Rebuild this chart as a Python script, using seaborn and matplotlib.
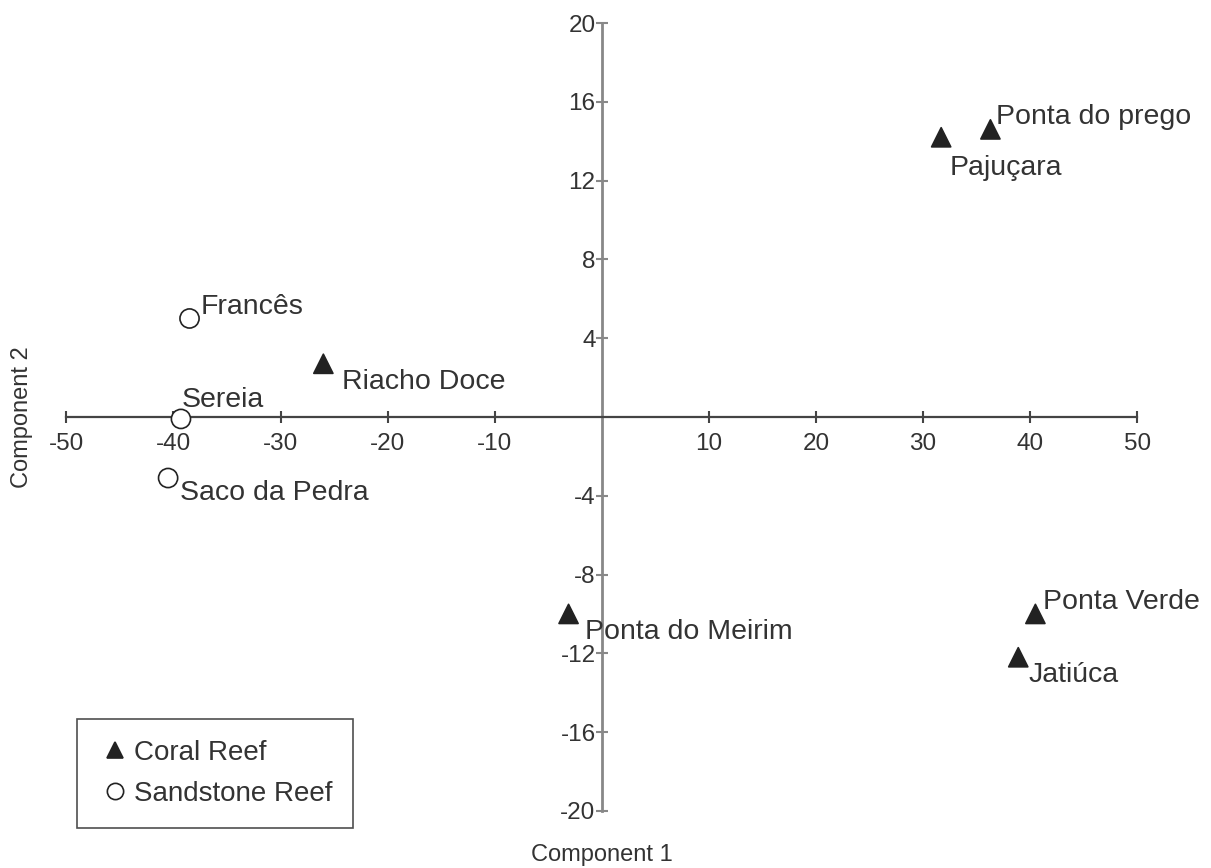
import matplotlib
matplotlib.use("Agg")
import matplotlib.pyplot as plt
import seaborn as sns
import pandas as pd

# site scores on the first two components
sites = ["Ponta do prego", "Pajuçara", "Francês", "Riacho Doce", "Sereia",
         "Saco da Pedra", "Ponta do Meirim", "Ponta Verde", "Jatiúca"]
comp1 = [36.3, 31.7, -38.5, -26.0, -39.3, -40.5, -3.1, 40.5, 38.9]
comp2 = [14.6, 14.2, 5.0, 2.7, -0.1, -3.1, -10.0, -10.0, -12.2]
reef = ["Coral Reef", "Coral Reef", "Sandstone Reef", "Coral Reef", "Sandstone Reef",
        "Sandstone Reef", "Coral Reef", "Coral Reef", "Coral Reef"]

x_ticks = [-50, -40, -30, -20, -10, 10, 20, 30, 40, 50]
y_ticks = [-20, -16, -12, -8, -4, 4, 8, 12, 16, 20]

# label offsets in pixels (dx, dy), text left-aligned, vertically centered
offsets = {
    "Ponta do prego": (6, 12),
    "Pajuçara": (8, -31),
    "Francês": (11, 11),
    "Riacho Doce": (19, -18),
    "Sereia": (1, 19),
    "Saco da Pedra": (12, -15),
    "Ponta do Meirim": (16, -18),
    "Ponta Verde": (8, 12),
    "Jatiúca": (10, -18),
}

df = pd.DataFrame({"site": sites, "c1": comp1, "c2": comp2, "reef": reef})

sns.set_style("white")
plt.rcParams["font.family"] = ["Liberation Sans", "DejaVu Sans"]
txt = "#333333"

fig = plt.figure(figsize=(12.11, 8.68), dpi=100)
ax = fig.add_axes([0, 0, 1, 1])

sns.scatterplot(data=df, x="c1", y="c2", hue="reef", style="reef",
                hue_order=["Coral Reef", "Sandstone Reef"],
                palette={"Coral Reef": "#222222", "Sandstone Reef": "white"},
                markers={"Coral Reef": "^", "Sandstone Reef": "o"},
                s=190, edgecolor="#222222", linewidth=1.2, ax=ax, zorder=3)

for _, r in df.iterrows():
    dx, dy = offsets[r["site"]]
    ax.annotate(r["site"], (r["c1"], r["c2"]), xytext=(dx * 0.72, dy * 0.72),
                textcoords="offset points", ha="left", va="center",
                fontsize=20.5, color=txt)

# limits so that data maps onto the reference pixel grid
ax.set_xlim(-56.2, 56.9)
ax.set_ylim(-22.9, 21.17)

ax.spines["left"].set_position(("data", 0))
ax.spines["bottom"].set_position(("data", 0))
ax.spines["right"].set_visible(False)
ax.spines["top"].set_visible(False)
ax.spines["bottom"].set_bounds(-50, 50)
ax.spines["left"].set_bounds(-20, 20)
ax.spines["bottom"].set_color("#444444")
ax.spines["left"].set_color("#888888")
ax.spines["bottom"].set_linewidth(1.6)
ax.spines["left"].set_linewidth(2.0)

ax.set_xticks(x_ticks)
ax.set_xticklabels([str(v) for v in x_ticks])
ax.set_yticks(y_ticks)
ax.set_yticklabels([str(v) for v in y_ticks])
ax.tick_params(axis="x", bottom=True, direction="inout", length=9, width=1.5,
               color="#444444", labelsize=17.5, labelcolor=txt, pad=7)
ax.tick_params(axis="y", left=True, direction="inout", length=9, width=1.5,
               color="#888888", labelsize=17.5, labelcolor=txt, pad=0)
ax.set_xlabel("")
ax.set_ylabel("")

fig.text(602 / 1211, 1 - 855 / 868, "Component 1", ha="center", va="center",
         fontsize=17, color=txt)
fig.text(22 / 1211, 1 - 417 / 868, "Component 2", ha="center", va="center",
         rotation=90, fontsize=17, color=txt)

handles, labels = ax.get_legend_handles_labels()
leg = ax.legend(handles, labels, loc="lower left",
                bbox_to_anchor=(77 / 1211, 40 / 868), fontsize=20,
                frameon=True, fancybox=False, edgecolor="#222222",
                handletextpad=0.1, handlelength=1.2, borderpad=0.75,
                labelspacing=0.55, markerscale=0.85, borderaxespad=0)
leg.get_frame().set_linewidth(1.2)
for t in leg.get_texts():
    t.set_color(txt)

fig.savefig("out.png", dpi=100)
